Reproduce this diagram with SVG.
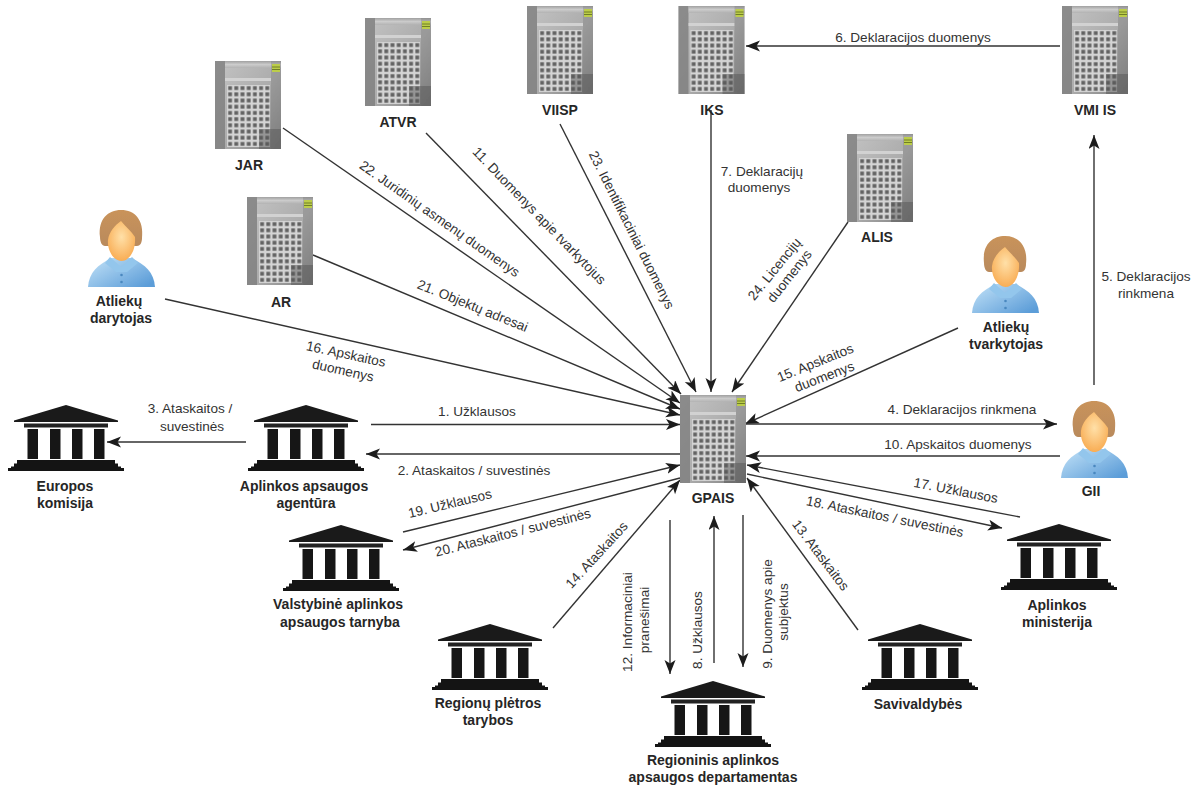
<svg xmlns="http://www.w3.org/2000/svg" width="1199" height="786" viewBox="0 0 1199 786">
<style>
text{font-family:"Liberation Sans",Arial,sans-serif;fill:#333}
.n{font-size:14px;font-weight:bold;text-anchor:middle;fill:#262626}
.l{font-size:13.600px;text-anchor:middle}
.c line{stroke:#333;stroke-width:1.400;marker-end:url(#a)}
</style>
<defs>
<marker id="a" markerUnits="userSpaceOnUse" markerWidth="16" markerHeight="12" refX="14" refY="5.500" orient="auto"><path d="M0 0L14 5.500L0 11L3.500 5.500Z" fill="#1c1c1c"/></marker>
<filter id="soft" x="-5%" y="-5%" width="110%" height="110%"><feGaussianBlur stdDeviation=".5"/></filter>
<linearGradient id="sg" x1="0" y1="0" x2="1" y2="1"><stop offset="0" stop-color="#c4c4c4"/><stop offset=".55" stop-color="#acacac"/><stop offset="1" stop-color="#808080"/></linearGradient>
<linearGradient id="st" x1="0" y1="0" x2="0" y2="1"><stop offset="0" stop-color="#9a9a9a"/><stop offset=".5" stop-color="#d0d0d0"/><stop offset="1" stop-color="#b0b0b0"/></linearGradient>
<radialGradient id="face" cx=".5" cy=".4" r=".65"><stop offset="0" stop-color="#ffe0a8"/><stop offset="1" stop-color="#f8a94e"/></radialGradient>
<linearGradient id="hair" x1="0" y1="0" x2="0" y2="1"><stop offset="0" stop-color="#c9935a"/><stop offset="1" stop-color="#b98a5c"/></linearGradient>
<linearGradient id="shirt" x1="0" y1="0" x2="1" y2=".8"><stop offset="0" stop-color="#c4e3f8"/><stop offset="1" stop-color="#5c9dd8"/></linearGradient>
<pattern id="win" width="6.200" height="6.200" patternUnits="userSpaceOnUse" x="12" y="24"><rect width="6.200" height="6.200" fill="#d4d4d4"/><rect x="1.200" y="1.200" width="3.800" height="3.800" fill="#636363"/></pattern>
<symbol id="server" width="66" height="88" viewBox="0 0 66 88" overflow="visible">
<g filter="url(#soft)">
<rect width="66" height="88" fill="url(#sg)"/>
<rect width="10" height="88" fill="#7d7d7d" opacity=".8"/>
<rect x="10" y="0" width="56" height="7" fill="url(#st)" opacity=".8"/>
<rect x="10" y="17" width="46" height="3" fill="#d2d2d2"/>
<rect x="56" y="0" width="10" height="88" fill="#777" opacity=".35"/>
<rect x="12" y="24" width="43" height="62" fill="url(#win)"/>
<rect x="44" y="68" width="22" height="20" fill="#555" opacity=".5"/>
<rect x="57" y="3" width="8" height="8" fill="#bccd48"/>
<path d="M57 6h8M57 8.500h8" stroke="#5d6b20" stroke-width=".8"/>
</g>
</symbol>
<symbol id="person" width="67" height="77" viewBox="0 0 67 77" overflow="visible">
<g filter="url(#soft)">
<path d="M0 77C1 62 10 55 23 48H44C57 55 66 62 67 77Z" fill="url(#shirt)"/>
<path d="M22 47L33 57L44 47L50 53L39 62H28L17 53Z" fill="#93c6ec"/>
<circle cx="33.500" cy="65" r="1.300" fill="#4a88bf"/><circle cx="33.500" cy="72" r="1.300" fill="#4a88bf"/>
<path d="M12 27C10 9 20 0 33 0C47 0 56 10 54 28C54 33 52 36 49 36H17C14 36 12 32 12 27Z" fill="url(#hair)"/>
<path d="M20 30C21 22 27 15 33 11C38 17 43 21 47 27C48 41 41 51 33.500 51C26 51 19 41 20 30Z" fill="url(#face)"/>
</g>
</symbol>
<symbol id="bank" width="116" height="66" viewBox="0 0 116 66" overflow="visible">
<path d="M58 0L110 15.500V17H6V15.500Z" fill="#1a1a1a"/>
<rect x="16" y="18.500" width="84" height="4" fill="#222"/>
<rect x="19.500" y="24" width="10.500" height="30" fill="#161616"/><rect x="42" y="24" width="10.500" height="30" fill="#161616"/><rect x="64" y="24" width="10.500" height="30" fill="#161616"/><rect x="86" y="24" width="10.500" height="30" fill="#161616"/>
<path d="M9 55H107V58.500H110V61.500H113V63H116V66H0V63H3V61.500H6V58.500H9Z" fill="#141414"/>
</symbol>
</defs>
<rect width="1199" height="786" fill="#fff"/>
<g id="connectors" class="c">
<line x1="165" y1="299" x2="680" y2="415"/>
<line x1="313" y1="255" x2="680" y2="409"/>
<line x1="283" y1="128" x2="680" y2="403"/>
<line x1="426" y1="133" x2="681" y2="394"/>
<line x1="560" y1="124" x2="696" y2="392"/>
<line x1="711" y1="110" x2="711" y2="392"/>
<line x1="848" y1="222" x2="732" y2="392"/>
<line x1="958" y1="328" x2="745" y2="424"/>
<line x1="371" y1="424.500" x2="680" y2="424.500"/>
<line x1="680" y1="454" x2="366" y2="454"/>
<line x1="246" y1="442" x2="107" y2="442"/>
<line x1="403" y1="532" x2="680" y2="465"/>
<line x1="680" y1="478" x2="403" y2="550"/>
<line x1="553" y1="628" x2="680" y2="480"/>
<line x1="670" y1="520" x2="670" y2="674"/>
<line x1="714" y1="663" x2="714" y2="516"/>
<line x1="743" y1="515" x2="743" y2="667"/>
<line x1="858" y1="630" x2="747" y2="478"/>
<line x1="1020" y1="517" x2="747" y2="465"/>
<line x1="747" y1="474" x2="1002" y2="528"/>
<line x1="1060" y1="456" x2="746" y2="456"/>
<line x1="746" y1="424" x2="1057" y2="424"/>
<line x1="1094" y1="385" x2="1094" y2="135"/>
<line x1="1060" y1="46" x2="746" y2="46"/>
</g>
<g id="conn-labels" class="l">
<text transform="translate(437,222.500) rotate(35)">22. Juridinių asmenų duomenys</text>
<text transform="translate(536,219) rotate(45.900)">11. Duomenys apie tvarkytojus</text>
<text transform="translate(627.500,232) rotate(63.400)">23. Identifikaciniai duomenys</text>
<text x="762" y="176">7. Deklaracijų</text><text x="759" y="192">duomenys</text>
<text transform="translate(778,272) rotate(-51)">24. Licencijų</text><text transform="translate(793,279) rotate(-51.500)">duomenys</text>
<text transform="translate(471,310) rotate(22)">21. Objektų adresai</text>
<text transform="translate(345,358.500) rotate(12)">16. Apskaitos</text><text transform="translate(342,375) rotate(12.500)">duomenys</text>
<text transform="translate(817,367) rotate(-22)">15. Apskaitos</text><text transform="translate(826,381) rotate(-21)">duomenys</text>
<text x="190" y="413">3. Ataskaitos /</text><text x="192" y="431">suvestinės</text>
<text x="477" y="416">1. Užklausos</text>
<text x="474" y="475">2. Ataskaitos / suvestinės</text>
<text transform="translate(451,508) rotate(-13.500)">19. Užklausos</text>
<text transform="translate(514,537) rotate(-14.200)">20. Ataskaitos / suvestinės</text>
<text transform="translate(600,558) rotate(-47.500)">14. Ataskaitos</text>
<text transform="translate(632,622) rotate(-90)">12. Informaciniai</text><text transform="translate(649,620) rotate(-90)">pranešimai</text>
<text transform="translate(702,630) rotate(-90)">8. Užklausos</text>
<text transform="translate(772,614) rotate(-90)">9. Duomenys apie</text><text transform="translate(788,612) rotate(-90)">subjektus</text>
<text transform="translate(817,558) rotate(53)">13. Ataskaitos</text>
<text transform="translate(955,495) rotate(11)">17. Užklausos</text>
<text transform="translate(884,521) rotate(11.600)">18. Ataskaitos / suvestinės</text>
<text x="962" y="414">4. Deklaracijos rinkmena</text>
<text x="958" y="449">10. Apskaitos duomenys</text>
<text x="1146" y="281">5. Deklaracijos</text><text x="1146" y="298">rinkmena</text>
<text x="913" y="42">6. Deklaracijos duomenys</text>
</g>
<g id="n-jar"><use href="#server" x="215" y="61"/><text class="n" x="249" y="170">JAR</text></g>
<g id="n-atvr"><use href="#server" x="365" y="18"/><text class="n" x="398" y="127">ATVR</text></g>
<g id="n-viisp"><use href="#server" x="527" y="6"/><text class="n" x="560" y="115">VIISP</text></g>
<g id="n-iks"><use href="#server" x="678.500" y="6"/><text class="n" x="712" y="115">IKS</text></g>
<g id="n-vmi"><use href="#server" x="1062" y="6"/><text class="n" x="1095" y="115">VMI IS</text></g>
<g id="n-alis"><use href="#server" x="847" y="134"/><text class="n" x="877" y="242">ALIS</text></g>
<g id="n-ar"><use href="#server" x="247" y="197"/><text class="n" x="281" y="307">AR</text></g>
<g id="n-gpais"><use href="#server" x="680" y="395"/><text class="n" x="713" y="503">GPAIS</text></g>
<g id="n-darytojas"><use href="#person" x="88" y="210"/><text class="n" x="119" y="306">Atliekų</text><text class="n" x="121" y="323">darytojas</text></g>
<g id="n-tvarkytojas"><use href="#person" x="972" y="236"/><text class="n" x="1006" y="332">Atliekų</text><text class="n" x="1006" y="349">tvarkytojas</text></g>
<g id="n-gii"><use href="#person" x="1061" y="401"/><text class="n" x="1091" y="496">GII</text></g>
<g id="n-ek"><use href="#bank" x="8" y="405"/><text class="n" x="65" y="491">Europos</text><text class="n" x="65" y="508">komisija</text></g>
<g id="n-aaa"><use href="#bank" x="248" y="405"/><text class="n" x="304" y="491">Aplinkos apsaugos</text><text class="n" x="306" y="508">agentūra</text></g>
<g id="n-vaat"><use href="#bank" x="283" y="525"/><text class="n" x="338" y="609">Valstybinė aplinkos</text><text class="n" x="340" y="627">apsaugos tarnyba</text></g>
<g id="n-rpt"><use href="#bank" x="432" y="624"/><text class="n" x="488" y="708">Regionų plėtros</text><text class="n" x="488" y="725">tarybos</text></g>
<g id="n-raad"><use href="#bank" x="655" y="681"/><text class="n" x="713" y="765">Regioninis aplinkos</text><text class="n" x="713" y="782">apsaugos departamentas</text></g>
<g id="n-sav"><use href="#bank" x="862" y="624"/><text class="n" x="918" y="709">Savivaldybės</text></g>
<g id="n-am"><use href="#bank" x="1001" y="524"/><text class="n" x="1057" y="610">Aplinkos</text><text class="n" x="1057" y="627">ministerija</text></g>
</svg>
